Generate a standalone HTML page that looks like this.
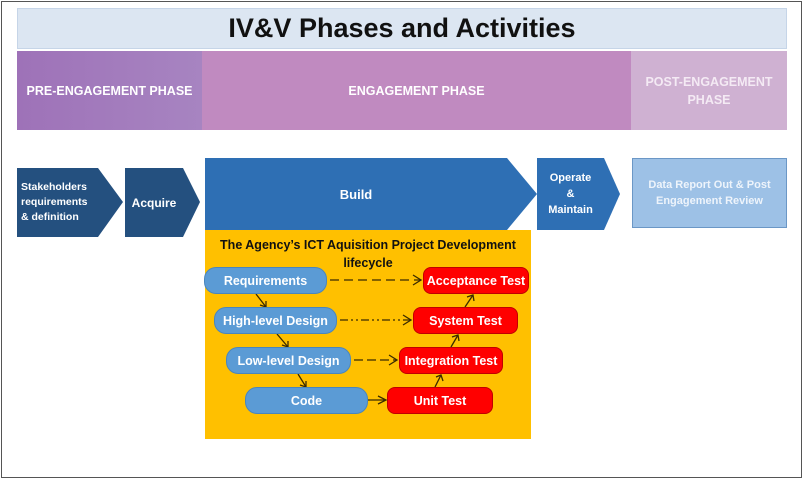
<!DOCTYPE html><html><head><style>
body{margin:0;width:803px;height:479px;background:#fff;font-family:"Liberation Sans",sans-serif;position:relative;overflow:hidden}
div{position:absolute;box-sizing:border-box}
.c{display:flex;align-items:center;justify-content:center;text-align:center;color:#fff;font-weight:bold}
.pill{border-radius:12px;font-size:12.5px;height:27px;white-space:nowrap}
.b{background:#5b9bd5;border:1px solid #4a86bd}
.r{background:#f00;border:1px solid #c00000;border-radius:8px}
</style></head><body>
<div style="left:1px;top:1px;width:801px;height:477px;border:1px solid #555"></div>
<div class="c" style="left:17px;top:8px;width:770px;height:41px;background:#dce6f2;border:1px solid #c6d5e8;color:#111;font-size:27px">IV&amp;V Phases and Activities</div>
<div class="c" style="left:17px;top:51px;width:185px;height:79px;background:linear-gradient(90deg,#9e72b8,#a784c1);font-size:12.5px">PRE-ENGAGEMENT PHASE</div>
<div class="c" style="left:202px;top:51px;width:429px;height:79px;background:#c08ac0;font-size:12.5px">ENGAGEMENT PHASE</div>
<div class="c" style="left:631px;top:51px;width:156px;height:79px;background:#cfb1d2;font-size:12.5px;color:#f4eaf4;line-height:18px">POST-ENGAGEMENT<br>PHASE</div>
<svg style="position:absolute;left:0;top:0" width="803" height="479">
<polygon points="17,168 98,168 123,202 98,237 17,237" fill="#24507f"/>
<polygon points="125,168 183,168 200,202 183,237 125,237" fill="#24507f"/>
<polygon points="205,158 507,158 537,194 507,230 205,230" fill="#2e6fb4"/>
<polygon points="537,158 604,158 620,194 604,230 537,230" fill="#2e6fb4"/>
</svg>
<div class="c" style="left:17px;top:168px;width:80px;height:69px;font-size:10.5px;line-height:15px;justify-content:flex-start;text-align:left;padding-left:4px">Stakeholders requirements &amp; definition</div>
<div class="c" style="left:125px;top:168px;width:58px;height:69px;font-size:12px">Acquire</div>
<div class="c" style="left:205px;top:158px;width:302px;height:72px;font-size:13px">Build</div>
<div class="c" style="left:537px;top:158px;width:67px;height:72px;font-size:11px;line-height:16px">Operate<br>&amp;<br>Maintain</div>
<div class="c" style="left:632px;top:158px;width:155px;height:70px;background:#9dc1e6;border:1px solid #6b97c6;font-size:11px;line-height:16px;color:#eef4fb">Data Report Out &amp; Post<br>Engagement Review</div>
<div style="left:205px;top:230px;width:326px;height:209px;background:#ffc000"></div>
<div class="c" style="left:205px;top:236px;width:326px;height:36px;color:#111;font-size:12.5px;line-height:18px;align-items:flex-start">The Agency’s ICT Aquisition Project Development<br>lifecycle</div>
<svg style="position:absolute;left:0;top:0" width="803" height="479" fill="none" stroke="#3a2a00" stroke-width="1.3">
<line x1="330" y1="280" x2="420" y2="280" stroke-dasharray="9,5"/><polyline points="413,275 421,280 413,285"/>
<line x1="340" y1="320" x2="410" y2="320" stroke-dasharray="8,3,2,3,2,3"/><polyline points="403,315 411,320 403,325"/>
<line x1="354" y1="360" x2="396" y2="360" stroke-dasharray="9,4"/><polyline points="389,355 397,360 389,365"/>
<line x1="368" y1="400" x2="385" y2="400"/><polyline points="378,396 386,400 378,404"/>
<line x1="256" y1="294" x2="266" y2="307"/><polyline points="260,305 266,307 266,301"/>
<line x1="277" y1="334" x2="288" y2="347"/><polyline points="282,345 288,347 288,341"/>
<line x1="298" y1="374" x2="306" y2="387"/><polyline points="300,385 306,387 306,381"/>
<line x1="465" y1="307" x2="473" y2="295"/><polyline points="467,297 473,295 474,301"/>
<line x1="451" y1="347" x2="458" y2="335"/><polyline points="452,337 458,335 459,341"/>
<line x1="435" y1="387" x2="441" y2="375"/><polyline points="436,377 441,375 443,381"/>
</svg>
<div class="c pill b" style="left:204px;top:267px;width:123px">Requirements</div>
<div class="c pill b" style="left:214px;top:307px;width:123px">High-level Design</div>
<div class="c pill b" style="left:226px;top:347px;width:125px">Low-level Design</div>
<div class="c pill b" style="left:245px;top:387px;width:123px">Code</div>
<div class="c pill r" style="left:423px;top:267px;width:106px">Acceptance Test</div>
<div class="c pill r" style="left:413px;top:307px;width:105px">System Test</div>
<div class="c pill r" style="left:399px;top:347px;width:104px">Integration Test</div>
<div class="c pill r" style="left:387px;top:387px;width:106px">Unit Test</div>
</body></html>
